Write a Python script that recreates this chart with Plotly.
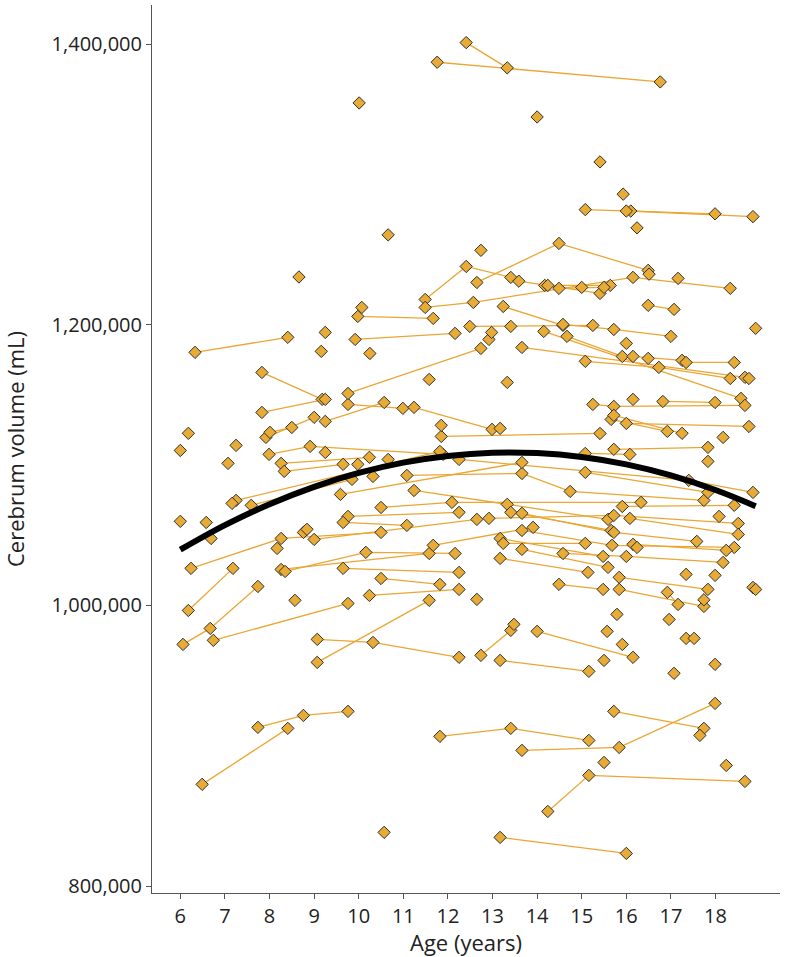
import plotly.graph_objects as go

# each inner list is one child's visits (age in years, cerebrum volume in thousands of mL)
ages_by_subject = [
    [12.41, 13.33], [11.76, 16.76], [14.0], [10.01], [15.41], [15.93],
    [15.08, 17.99], [16.1, 18.84], [16.0], [16.24], [10.66], [8.66], [12.74],
    [11.49, 12.41, 13.41], [11.49, 12.57, 16.15, 18.33], [12.65, 14.49, 16.49],
    [16.51], [13.59, 15.41], [16.49, 17.07], [14.17, 15.64], [14.49, 15.5],
    [15.0], [17.16], [13.24, 14.58], [14.24], [6.33, 8.41], [9.16], [10.25],
    [9.98, 11.67], [9.25], [9.92, 12.16], [12.49, 15.25], [13.41],
    [14.58, 15.72, 17.0], [12.92], [12.98], [13.66, 18.66], [14.15, 18.57],
    [14.67, 15.91], [16.15, 17.25], [17.34, 18.42], [16.49],
    [15.08, 16.73, 18.33], [18.9], [16.0], [18.75], [11.58], [13.33], [10.07],
    [7.83, 9.18], [7.83, 9.25], [7.92, 9.0], [8.01, 8.5], [9.25, 10.57],
    [9.76, 10.99], [9.76, 12.74], [11.85, 15.41], [11.24, 12.99], [11.85],
    [13.17], [15.25, 15.72, 18.66], [15.66, 16.92], [15.72, 17.25],
    [16.0, 18.75], [18.17], [16.15], [16.82, 17.99], [6.18], [6.0], [7.25],
    [7.07], [7.99, 8.91, 11.89], [9.25], [8.26, 10.24], [8.33, 9.65],
    [7.25, 11.82], [7.59, 9.85], [7.16], [6.0], [6.58], [6.69], [9.0, 12.65],
    [8.76], [8.84], [6.24, 8.26, 10.5], [8.17], [6.18, 7.18], [8.26, 11.58],
    [8.35, 10.16, 12.16], [6.06, 6.67, 7.74], [6.74, 9.76], [8.57],
    [9.07, 10.32, 12.25], [9.07, 11.58], [7.74, 8.76, 9.76], [6.49, 8.41],
    [11.82, 13.41, 15.16], [13.66, 15.84, 17.99], [10.57], [12.65],
    [12.74, 13.41], [13.48], [14.0, 16.15], [13.17, 15.16], [15.72, 17.74],
    [17.65], [14.24, 15.16, 18.66], [15.5], [18.24], [13.17, 16.0], [15.57],
    [15.5], [15.79], [15.91], [16.96], [17.34], [17.52], [17.99], [17.07],
    [11.08, 13.66, 14.74, 17.74], [9.59, 13.66], [15.08, 17.83],
    [15.08, 16.08], [15.72, 17.83], [12.25, 17.4, 18.84], [17.83], [10.66],
    [9.98], [10.32], [11.24, 13.33, 15.59], [10.5, 12.09, 16.33],
    [9.76, 12.25], [9.65, 11.08], [12.92, 15.72, 18.51], [15.91, 18.42],
    [16.08, 18.51], [18.08], [13.41, 15.66], [13.66, 15.72, 17.58],
    [13.66, 15.68, 18.42], [11.67, 13.91], [13.17, 15.48], [13.24, 15.08],
    [13.66, 15.59], [13.17, 15.14], [14.58, 16.0, 18.17], [14.49, 15.48],
    [16.15, 18.24], [16.24], [15.84, 17.83], [15.84, 17.74], [16.92, 17.16],
    [17.34], [17.99], [17.74], [18.84], [18.9], [9.65, 12.25], [10.5, 11.82],
    [10.24, 12.25],
]

volumes_by_subject = [
    [1401, 1383], [1387, 1373], [1348], [1358], [1316], [1293],
    [1282, 1279], [1281, 1277], [1281], [1269], [1264], [1234], [1253],
    [1218, 1241.5, 1233.7], [1212.3, 1215.9, 1233.7, 1225.9],
    [1230.1, 1257.9, 1238.7], [1236], [1231, 1222.3], [1213.8, 1210.9],
    [1228, 1228], [1225.9, 1226.6], [1226.6], [1233], [1213, 1199.5], [1228],
    [1180.3, 1191], [1181], [1179.5], [1205.9, 1204.5], [1194.5],
    [1189.5, 1193.8], [1198.8, 1199.5], [1198.8], [1200.2, 1196.6, 1191.7],
    [1189.5], [1194.5], [1183.8, 1162.5], [1195.2, 1147.5], [1191.7, 1177.4],
    [1177.4, 1174.6], [1173.1, 1173.1], [1176], [1173.9, 1169.6, 1161.7],
    [1197.4], [1186.7], [1161.7], [1161], [1158.9], [1212.3],
    [1166, 1146.8], [1137.5, 1146.8], [1119.7, 1134], [1123.3, 1126.8],
    [1131.1, 1144.6], [1143.2, 1140.4], [1151, 1183.1], [1120.4, 1122.5],
    [1141.1, 1125.4], [1128.3], [1126.1], [1143.2, 1141.8, 1142.5],
    [1132.5, 1124], [1135.4, 1122.6], [1129.7, 1127.5], [1119.7], [1146.8],
    [1145.3, 1144.6], [1122.6], [1110.4], [1114], [1101.2],
    [1107.6, 1113.3, 1107.6], [1109], [1101.2, 1105.5], [1095.5, 1100.5],
    [1074.8, 1109.7], [1071.3, 1089.8], [1072.7], [1059.9], [1059.1],
    [1047.7], [1047, 1061.3], [1052], [1054.2], [1026.4, 1047.7, 1052],
    [1040.6], [996.4, 1026.4], [1025.6, 1037], [1024.2, 1037.8, 1037],
    [972.2, 983.6, 1013.5], [975.1, 1001.4], [1003.6], [975.8, 973.6, 963],
    [959.4, 1003.6], [913.1, 921.6, 924.5], [872.5, 912.4],
    [906.7, 912.4, 903.8], [896.7, 898.8, 930.2], [838.3], [1004.3],
    [964.4, 982.2], [986.5], [981.5, 963], [960.8, 953], [924.5, 912.4],
    [907.4], [853.2, 878.9, 874.6], [888.1], [886], [834.7, 823.3], [981.5],
    [960.8], [993.6], [972.2], [990], [976.5], [976.5], [958], [951.6],
    [1092.6, 1094, 1081.2, 1074.8], [1079.1, 1101.9], [1094.8, 1080.5],
    [1108.3, 1107.6], [1111.2, 1112.6], [1104, 1089.1, 1080.5], [1102.6],
    [1104], [1100.5], [1091.9], [1081.9, 1072, 1061.3],
    [1069.8, 1073.4, 1073.4], [1063.4, 1066.3], [1059.1, 1057],
    [1062, 1064.1, 1058.4], [1070.5, 1071.3], [1062, 1050.6], [1063.4],
    [1066.3, 1053.4], [1065.6, 1052, 1045.6], [1053.4, 1042.8, 1041.3],
    [1042.8, 1055.6], [1047.7, 1034.9], [1044.2, 1044.2], [1039.9, 1027.1],
    [1033.5, 1023.5], [1037, 1034.9, 1030.6], [1015, 1011.4],
    [1043.5, 1039.2], [1041.3], [1020, 1011.4], [1011.4, 999.3],
    [1009.3, 1000.7], [1022.1], [1021.4], [1004], [1012.8], [1011.4],
    [1026.4, 1023.5], [1019.2, 1015], [1007.1, 1011.4],
]

# group-level fitted trajectory
fit_age = [6, 7, 8, 9, 10, 11, 12, 13, 14, 15, 16, 17, 18, 18.9]
fit_volume = [1039.7, 1057.2, 1072.1, 1084.5, 1094.4, 1101.7, 1106.5,
              1108.8, 1108.5, 1105.8, 1100.5, 1092.6, 1082.2, 1070.7]

age_ticks = list(range(6, 19))
volume_ticks = [800000, 1000000, 1200000, 1400000]

assert len(ages_by_subject) == len(volumes_by_subject)

line_x, line_y, pt_x, pt_y = [], [], [], []
for a, v in zip(ages_by_subject, volumes_by_subject):
    assert len(a) == len(v)
    ml = [val * 1000 for val in v]
    pt_x += a
    pt_y += ml
    if len(a) > 1:
        line_x += a + [None]
        line_y += ml + [None]

fig = go.Figure()

fig.add_trace(go.Scatter(
    x=line_x, y=line_y, mode="lines",
    line=dict(color="#EBA633", width=1.3),
    hoverinfo="skip",
))

fig.add_trace(go.Scatter(
    x=pt_x, y=pt_y, mode="markers",
    marker=dict(symbol="diamond", size=9.5, color="#E8AC36",
                line=dict(color="#2E2E2E", width=1)),
))

fig.add_trace(go.Scatter(
    x=fit_age, y=[v * 1000 for v in fit_volume], mode="lines",
    line=dict(color="black", width=6, shape="spline"),
))

axis_style = dict(
    showline=True, linecolor="#555", linewidth=1,
    ticks="outside", ticklen=5, tickcolor="#555",
    showgrid=False, zeroline=False, automargin=False,
    tickfont=dict(size=20, color="#222"),
)

fig.update_layout(
    width=785, height=957,
    margin=dict(l=152, r=5, t=5, b=64),
    plot_bgcolor="white", paper_bgcolor="white",
    showlegend=False,
    font=dict(family="Open Sans", color="#222"),
    xaxis=dict(axis_style, range=[5.365, 19.446], tickvals=age_ticks,
               title=dict(text="Age (years)", font=dict(size=22), standoff=6)),
    yaxis=dict(axis_style, range=[795088, 1427788], tickvals=volume_ticks,
               tickformat=",",
               title=dict(text="Cerebrum volume (mL)", font=dict(size=22), standoff=27)),
)

# drop the browser's default page margin so the figure sits at the window's corner
fig.write_html("out.html", config={"displayModeBar": False},
               post_script="document.body.style.margin='0';")
